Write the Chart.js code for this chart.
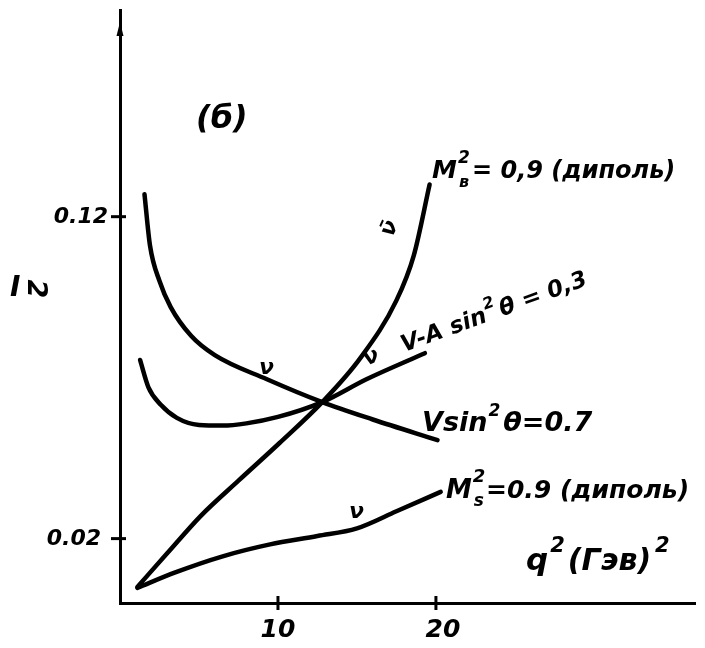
<!DOCTYPE html>
<html>
<head>
<meta charset="utf-8">
<script src="https://cdn.jsdelivr.net/npm/chart.js@4"></script>
<style>
  html, body { margin: 0; padding: 0; background: #fff; }
  #wrap { width: 705px; height: 648px; }
</style>
</head>
<body>
<div id="wrap"><canvas id="Chart" width="705" height="648"></canvas></div>
<script>
// q^2 values and cross sections for each curve
const dipoleBX = [1.1, 3.0, 5.1, 7.5, 10.1, 12.8, 15.2, 17.5, 18.6, 19.6];
const dipoleBY = [0.005, 0.0155, 0.027, 0.038, 0.0497, 0.0624, 0.076, 0.094, 0.108, 0.130];

const vaX = [1.27, 1.8, 2.6, 3.6, 5.0, 6.5, 8.0, 10.0, 12.8, 15.6, 19.3];
const vaY = [0.0755, 0.067, 0.0615, 0.0575, 0.0553, 0.0551, 0.0558, 0.0578, 0.0624, 0.0695, 0.0776];

const vX = [1.55, 1.9, 2.5, 3.2, 4.5, 6.0, 9.3, 12.8, 16.0, 20.1];
const vY = [0.127, 0.111, 0.100, 0.092, 0.083, 0.077, 0.0695, 0.0624, 0.057, 0.0506];

const dipoleSX = [1.1, 3.5, 6.5, 9.5, 12.5, 15.0, 17.5, 20.3];
const dipoleSY = [0.0047, 0.0095, 0.0145, 0.0182, 0.0208, 0.0232, 0.0285, 0.0345];

const xTicks = [10, 20];
const xTickLabels = ['10', '20'];
const yTicks = [0.02, 0.12];
const yTickLabels = ['0.02', '0.12'];

const FONT = '"DejaVu Sans"';

function pts(xs, ys) {
  return xs.map((x, i) => ({ x: x, y: ys[i] }));
}

function curve(xs, ys) {
  return {
    data: pts(xs, ys),
    borderColor: '#000',
    borderWidth: 4.5,
    pointRadius: 0,
    fill: false,
    cubicInterpolationMode: 'monotone',
    borderCapStyle: 'round',
    borderJoinStyle: 'round'
  };
}

// text pieces: [text, dx, dy, size, keepX]
function rich(ctx, x, y, angle, parts) {
  ctx.save();
  ctx.translate(x, y);
  ctx.rotate(angle * Math.PI / 180);
  ctx.fillStyle = '#000';
  ctx.textBaseline = 'alphabetic';
  ctx.textAlign = 'left';
  let cx = 0;
  parts.forEach(p => {
    ctx.font = 'italic bold ' + p[3] + 'px ' + FONT;
    ctx.fillText(p[0], cx + p[1], p[2]);
    if (!p[4]) cx += p[1] + ctx.measureText(p[0]).width;
  });
  ctx.restore();
}

const decor = {
  id: 'decor',
  afterDraw(chart) {
    const ctx = chart.ctx;
    const xs = chart.scales.x, ys = chart.scales.y;
    const x0 = xs.getPixelForValue(0), y0 = ys.getPixelForValue(0);
    ctx.save();
    ctx.strokeStyle = '#000';
    ctx.fillStyle = '#000';
    ctx.lineWidth = 3;
    // tick marks crossing the axes, with their labels
    ctx.font = 'italic bold 25px ' + FONT;
    ctx.textAlign = 'center';
    ctx.textBaseline = 'top';
    xTicks.forEach((v, i) => {
      const px = xs.getPixelForValue(v);
      ctx.beginPath(); ctx.moveTo(px, y0 - 7); ctx.lineTo(px, y0 + 7); ctx.stroke();
      ctx.fillText(xTickLabels[i], px + i * 7, y0 + 15);
    });
    ctx.font = 'italic bold 22px ' + FONT;
    ctx.textAlign = 'right';
    ctx.textBaseline = 'middle';
    yTicks.forEach((v, i) => {
      const py = ys.getPixelForValue(v);
      ctx.beginPath(); ctx.moveTo(x0 - 9, py); ctx.lineTo(x0 + 6, py); ctx.stroke();
      ctx.fillText(yTickLabels[i], x0 - 12 - (1 - i) * 7, py + 1);
    });
    // arrow at the top of the vertical axis
    const top = chart.chartArea.top;
    ctx.beginPath();
    ctx.moveTo(x0, top + 12); ctx.lineTo(x0 - 3.5, top + 26); ctx.lineTo(x0 + 3.5, top + 26);
    ctx.closePath(); ctx.fill();

    // axis name, the index written sideways
    ctx.font = 'italic bold 28px ' + FONT;
    ctx.textAlign = 'left';
    ctx.textBaseline = 'alphabetic';
    ctx.fillText('I', 10, 296);
    ctx.translate(35, 289);
    ctx.rotate(Math.PI / 2);
    ctx.font = 'italic bold 27px ' + FONT;
    ctx.textAlign = 'center';
    ctx.textBaseline = 'middle';
    ctx.fillText('2', 0, 0);
    ctx.restore();

    rich(ctx, 196, 128, 0, [['(б)', 0, 0, 32]]);

    rich(ctx, 432, 178, 0, [
      ['M', 0, 0, 25], ['2', 1, -15, 17, true], ['в', 2, 9, 16], ['= 0,9 (диполь)', 3, 0, 24]
    ]);
    rich(ctx, 404, 352, -20, [
      ['V-A sin', 0, 0, 23], ['2', 1, -12, 16], ['θ = 0,3', 3, 0, 23]
    ]);
    rich(ctx, 422, 431, 0, [
      ['Vsin', 0, 0, 27], ['2', 1, -15, 17], ['θ=0.7', 3, 0, 27]
    ]);
    rich(ctx, 446, 498, 0, [
      ['M', 0, 0, 26], ['2', 1, -16, 18, true], ['s', 2, 8, 17], ['=0.9 (диполь)', 2, 0, 25]
    ]);
    rich(ctx, 526, 570, 0, [
      ['q', 0, 0, 31], ['2', 2, -18, 21], ['(Гэв)', 3, 0, 30], ['2', 4, -18, 21]
    ]);

    rich(ctx, 259, 374, 0, [['ν', 0, 0, 22]]);
    rich(ctx, 367, 366, -25, [['ν', 0, 0, 22]]);
    rich(ctx, 349, 518, 0, [['ν', 0, 0, 22]]);
    rich(ctx, 392, 238, -65, [['ν̄', 0, 0, 22]]);
  }
};

function crearChart() {
  const ctx = document.getElementById('Chart');
  new Chart(ctx, {
    type: 'line',
    data: {
      datasets: [
        curve(dipoleBX, dipoleBY),
        curve(vaX, vaY),
        curve(vX, vY),
        curve(dipoleSX, dipoleSY)
      ]
    },
    options: {
      responsive: false,
      animation: false,
      layout: { padding: { left: 120, top: 10, right: 10, bottom: 45 } },
      scales: {
        x: {
          type: 'linear',
          min: 0,
          max: 36.4,
          afterFit: s => { s.height = 0; },
          grid: { display: true, drawOnChartArea: false, drawTicks: false },
          border: { display: true, color: '#000', width: 3 },
          ticks: { display: false }
        },
        y: {
          type: 'linear',
          min: 0,
          max: 0.1842,
          afterFit: s => { s.width = 0; },
          grid: { display: true, drawOnChartArea: false, drawTicks: false },
          border: { display: true, color: '#000', width: 3 },
          ticks: { display: false }
        }
      },
      plugins: { legend: { display: false }, tooltip: { enabled: false } }
    },
    plugins: [decor]
  });
}
crearChart();
</script>
</body>
</html>
